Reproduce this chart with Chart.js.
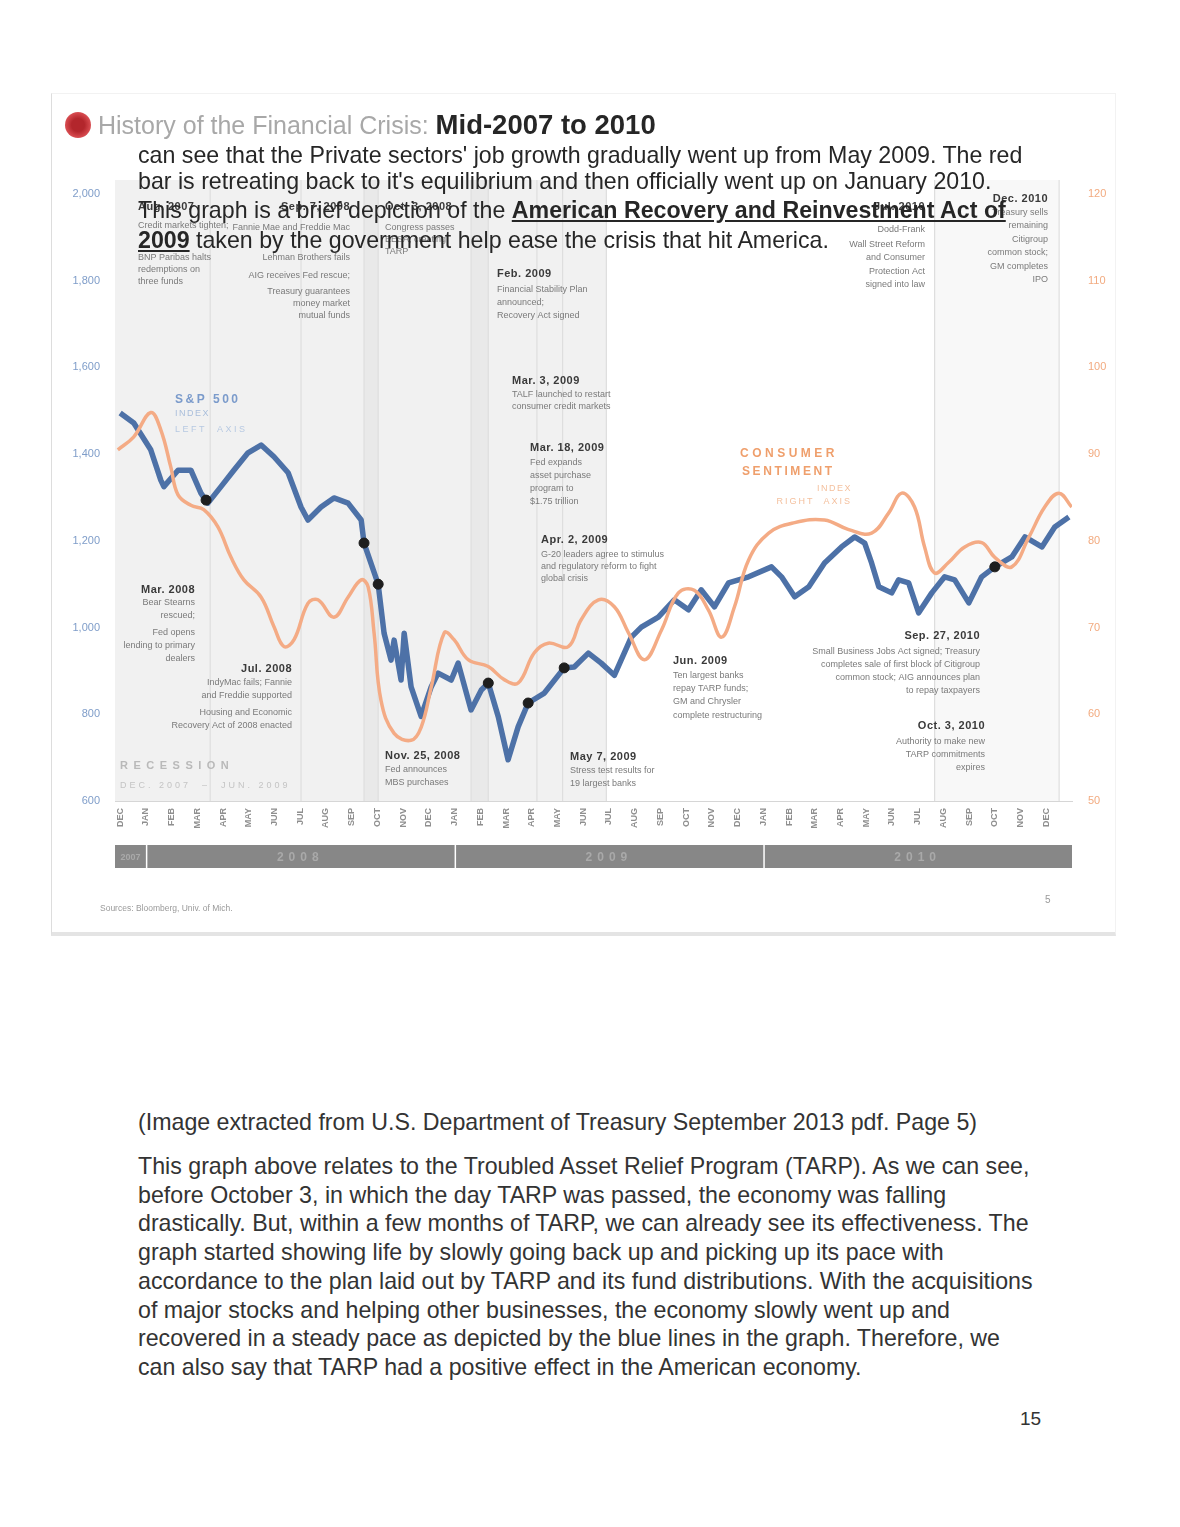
<!DOCTYPE html>
<html lang="en">
<head>
  <meta charset="UTF-8" />
  <title>History of the Financial Crisis: Mid-2007 to 2010</title>
  <script src="https://cdn.jsdelivr.net/npm/chart.js"></script>
  <style>
    body {
      margin: 0;
      background: #fff;
      font-family: 'Liberation Sans', Arial, sans-serif;
    }
    .page {
      position: relative;
      width: 1180px;
      height: 1527px;
      overflow: hidden;
    }
    .frame {
      position: absolute;
      left: 51px;
      top: 93px;
      width: 1063px;
      height: 838px;
      border: 1px solid #f2f2f2;
      border-left-color: #dddddd;
      border-bottom: 4px solid #e4e4e4;
    }
    #chart {
      position: absolute;
      left: 0;
      top: 0;
    }
    .logo {
      position: absolute;
      left: 65px;
      top: 112px;
      width: 26px;
      height: 26px;
      border-radius: 50%;
      background: radial-gradient(circle, #b3262c 35%, #d4474c 65%, #e58a87 100%);
    }
    .title {
      position: absolute;
      left: 98px;
      top: 110px;
      font-size: 25px;
      line-height: 30px;
      color: #a8a8a8;
      white-space: nowrap;
    }
    .title b {
      color: #262626;
      font-size: 27.5px;
    }
    .overlay {
      position: absolute;
      left: 138px;
      font-size: 23.2px;
      line-height: 24px;
      color: #262626;
      white-space: nowrap;
    }
    .overlay b { text-decoration: underline; }
    .source {
      position: absolute;
      left: 100px;
      top: 903px;
      font-size: 8.5px;
      color: #9a9a9a;
    }
    .slide-no {
      position: absolute;
      left: 1045px;
      top: 894px;
      font-size: 10px;
      color: #9a9a9a;
    }
    .caption {
      position: absolute;
      left: 138px;
      top: 1110px;
      font-size: 23.2px;
      line-height: 24px;
      color: #333;
      white-space: nowrap;
    }
    .doc {
      position: absolute;
      left: 138px;
      top: 1152px;
      font-size: 23.2px;
      line-height: 28.7px;
      color: #333;
      white-space: nowrap;
    }
    .page-no {
      position: absolute;
      left: 1020px;
      top: 1408px;
      font-size: 19px;
      color: #333;
    }
  </style>
</head>
<body>
<div class="page">
  <div class="frame"></div>
  <canvas id="chart" width="1180" height="940"></canvas>
  <div class="logo"></div>
  <div class="title">History of the Financial Crisis: <b>Mid-2007 to 2010</b></div>

  <div class="overlay" style="top:143px">can see that the Private sectors' job growth gradually went up from May 2009. The red</div>
  <div class="overlay" style="top:169px">bar is retreating back to it's equilibrium and then officially went up on January 2010.</div>
  <div class="overlay" style="top:198px">This graph is a brief depiction of the <b>American Recovery and Reinvestment Act of</b></div>
  <div class="overlay" style="top:228px"><b>2009</b> taken by the government help ease the crisis that hit America.</div>

  <div class="source">Sources: Bloomberg, Univ. of Mich.</div>
  <div class="slide-no">5</div>

  <div class="caption">(Image extracted from U.S. Department of Treasury September 2013 pdf. Page 5)</div>
  <div class="doc">
    This graph above relates to the Troubled Asset Relief Program (TARP). As we can see,<br>
    before October 3, in which the day TARP was passed, the economy was falling<br>
    drastically. But, within a few months of TARP, we can already see its effectiveness. The<br>
    graph started showing life by slowly going back up and picking up its pace with<br>
    accordance to the plan laid out by TARP and its fund distributions. With the acquisitions<br>
    of major stocks and helping other businesses, the economy slowly went up and<br>
    recovered in a steady pace as depicted by the blue lines in the graph. Therefore, we<br>
    can also say that TARP had a positive effect in the American economy.
  </div>
  <div class="page-no">15</div>
</div>

<script>
  // months counted from Dec. 1, 2007 (0) to Jan. 1, 2011 (37)
  const monthLabels = [
    'DEC',
    'JAN', 'FEB', 'MAR', 'APR', 'MAY', 'JUN', 'JUL', 'AUG', 'SEP', 'OCT', 'NOV', 'DEC',
    'JAN', 'FEB', 'MAR', 'APR', 'MAY', 'JUN', 'JUL', 'AUG', 'SEP', 'OCT', 'NOV', 'DEC',
    'JAN', 'FEB', 'MAR', 'APR', 'MAY', 'JUN', 'JUL', 'AUG', 'SEP', 'OCT', 'NOV', 'DEC'
  ];
  const yearLabels = ['2007', '2008', '2009', '2010'];

  // S&P 500 index (left axis)
  const spMonths = [0.00, 0.53, 1.19, 1.58, 1.70, 2.25, 2.75, 3.14, 3.41, 3.92,
    4.42, 4.97, 5.48, 5.98, 6.53, 7.03, 7.30, 7.81, 8.31, 8.86,
    9.37, 9.48, 10.03, 10.26, 10.53, 10.65, 10.92, 11.04, 11.31, 11.70,
    12.09, 12.36, 12.87, 13.14, 13.64, 14.04, 14.31, 14.70, 15.08, 15.47,
    15.86, 16.49, 17.26, 17.65, 18.20, 18.70, 19.21, 19.87, 20.26, 20.92,
    21.54, 22.09, 22.59, 23.10, 23.65, 24.43, 25.32, 25.71, 26.22, 26.77,
    27.38, 28.04, 28.55, 28.94, 29.21, 29.49, 29.99, 30.26, 30.65, 31.04,
    31.55, 32.05, 32.44, 32.99, 33.49, 34.00, 34.66, 35.17, 35.83, 36.33,
    36.88];
  const spValues = [1495, 1472, 1410, 1340, 1325, 1363, 1363, 1310, 1287, 1325,
    1363, 1403, 1421, 1394, 1357, 1278, 1248, 1278, 1299, 1287,
    1248, 1195, 1100, 987, 925, 971, 879, 987, 863, 795,
    863, 895, 879, 918, 810, 856, 872, 794, 695, 771,
    826, 849, 907, 909, 941, 918, 890, 978, 1001, 1024,
    1064, 1041, 1087, 1048, 1103, 1117, 1140, 1117, 1071, 1094,
    1149, 1186, 1209, 1195, 1149, 1094, 1080, 1110, 1103, 1034,
    1080, 1117, 1110, 1057, 1117, 1140, 1163, 1209, 1186, 1232,
    1255];

  // consumer sentiment index (right axis)
  const csMonths = [-0.09, 0.53, 1.19, 1.58, 1.97, 2.25, 2.75, 3.25, 3.80, 4.31,
    4.81, 5.48, 5.98, 6.37, 6.76, 7.30, 7.69, 8.31, 8.86, 9.37,
    9.64, 9.87, 10.14, 10.65, 11.31, 11.70, 12.09, 12.60, 12.98, 13.53,
    14.31, 14.93, 15.47, 16.10, 16.64, 17.42, 17.92, 18.59, 19.21, 19.76,
    20.38, 21.04, 21.70, 22.32, 22.87, 23.38, 23.88, 24.43, 25.21, 26.22,
    27.38, 28.32, 29.21, 29.87, 30.38, 30.88, 31.27, 31.66, 32.20, 32.83,
    33.49, 34.00, 34.66, 35.32, 35.94, 36.49, 36.99];
  const csValues = [90.5, 92.0, 94.8, 92.8, 88.5, 85.3, 84.1, 83.6, 81.6, 78.1,
    75.5, 73.5, 70.1, 67.8, 68.6, 72.8, 73.2, 71.2, 73.5, 75.5,
    74.7, 69.4, 61.6, 57.8, 57.0, 58.5, 63.1, 69.4, 68.6, 66.3,
    65.5, 64.0, 63.6, 67.1, 68.2, 67.8, 70.9, 73.2, 72.4, 69.4,
    66.3, 69.7, 74.0, 74.3, 72.0, 68.9, 72.4, 77.8, 80.9, 82.1,
    82.4, 81.3, 80.9, 83.2, 85.5, 83.9, 79.3, 76.3, 77.5, 79.3,
    79.8, 78.1, 77.0, 80.4, 83.9, 85.5, 83.9];

  // key events marked on the S&P line
  const eventMonths = [3.34, 9.48, 10.03, 14.31, 15.86, 17.26, 34.00];
  const eventValues = [1294, 1195, 1100, 872, 826, 907, 1140];

  // date spans and event lines behind the series
  const recession = [-0.2, 18.9];
  const crisisBands = [[9.48, 10.03], [13.64, 14.31]];
  const reformBand = [31.66, 36.5];
  const eventLines = [3.5, 7.03, 9.48, 10.03, 13.64, 14.31, 16.2, 17.2, 18.9, 31.66, 36.5];

  const notes = [
    { x: 138, align: 'left', head: [207, 'Aug. 2007'],
      body: [[226, 'Credit markets tighten;'], [258, 'BNP Paribas halts'], [270, 'redemptions on'], [282, 'three funds']] },
    { x: 350, align: 'right', head: [207, 'Sep. 7, 2008'],
      body: [[228, 'Fannie Mae and Freddie Mac'], [258, 'Lehman Brothers fails'], [276, 'AIG receives Fed rescue;'],
             [292, 'Treasury guarantees'], [304, 'money market'], [316, 'mutual funds']] },
    { x: 385, align: 'left', head: [207, 'Oct. 3, 2008'],
      body: [[228, 'Congress passes'], [240, 'EESA, creating'], [252, 'TARP']] },
    { x: 497, align: 'left', head: [274, 'Feb. 2009'],
      body: [[290, 'Financial Stability Plan'], [303, 'announced;'], [316, 'Recovery Act signed']] },
    { x: 512, align: 'left', head: [381, 'Mar. 3, 2009'],
      body: [[395, 'TALF launched to restart'], [407, 'consumer credit markets']] },
    { x: 530, align: 'left', head: [448, 'Mar. 18, 2009'],
      body: [[463, 'Fed expands'], [476, 'asset purchase'], [489, 'program to'], [502, '$1.75 trillion']] },
    { x: 541, align: 'left', head: [540, 'Apr. 2, 2009'],
      body: [[555, 'G-20 leaders agree to stimulus'], [567, 'and regulatory reform to fight'], [579, 'global crisis']] },
    { x: 195, align: 'right', head: [590, 'Mar. 2008'],
      body: [[603, 'Bear Stearns'], [616, 'rescued;'], [633, 'Fed opens'], [646, 'lending to primary'], [659, 'dealers']] },
    { x: 292, align: 'right', head: [669, 'Jul. 2008'],
      body: [[683, 'IndyMac fails; Fannie'], [696, 'and Freddie supported'], [713, 'Housing and Economic'], [726, 'Recovery Act of 2008 enacted']] },
    { x: 385, align: 'left', head: [756, 'Nov. 25, 2008'],
      body: [[770, 'Fed announces'], [783, 'MBS purchases']] },
    { x: 570, align: 'left', head: [757, 'May 7, 2009'],
      body: [[771, 'Stress test results for'], [784, '19 largest banks']] },
    { x: 673, align: 'left', head: [661, 'Jun. 2009'],
      body: [[676, 'Ten largest banks'], [689, 'repay TARP funds;'], [702, 'GM and Chrysler'], [716, 'complete restructuring']] },
    { x: 980, align: 'right', head: [636, 'Sep. 27, 2010'],
      body: [[652, 'Small Business Jobs Act signed; Treasury'], [665, 'completes sale of first block of Citigroup'],
             [678, 'common stock; AIG announces plan'], [691, 'to repay taxpayers']] },
    { x: 985, align: 'right', head: [726, 'Oct. 3, 2010'],
      body: [[742, 'Authority to make new'], [755, 'TARP commitments'], [768, 'expires']] },
    { x: 925, align: 'right', head: [207, 'Jul. 2010'],
      body: [[230, 'Dodd-Frank'], [245, 'Wall Street Reform'], [258, 'and Consumer'], [272, 'Protection Act'], [285, 'signed into law']] },
    { x: 1048, align: 'right', head: [199, 'Dec. 2010'],
      body: [[213, 'Treasury sells'], [226, 'remaining'], [240, 'Citigroup'], [253, 'common stock;'], [267, 'GM completes'], [280, 'IPO']] }
  ];

  const FONT = "'Liberation Sans', Arial, sans-serif";

  function text(ctx, str, x, y, font, color, align, spacing) {
    ctx.font = font;
    ctx.fillStyle = color;
    ctx.textAlign = align || 'left';
    ctx.textBaseline = 'middle';
    ctx.letterSpacing = spacing || '0px';
    ctx.fillText(str, x, y);
    ctx.letterSpacing = '0px';
  }

  const backdrop = {
    id: 'backdrop',
    beforeDatasetsDraw(chart) {
      const { ctx, chartArea: a, scales: { x } } = chart;
      const top = a.top - 14;
      const h = a.bottom - top;
      const px = v => x.getPixelForValue(v);
      ctx.save();
      ctx.fillStyle = '#f1f1f1';
      ctx.fillRect(px(recession[0]), top, px(recession[1]) - px(recession[0]), h);
      ctx.fillStyle = '#e9e9e9';
      crisisBands.forEach(([s, e]) => ctx.fillRect(px(s), top, px(e) - px(s), h));
      ctx.fillStyle = '#f8f8f8';
      ctx.fillRect(px(reformBand[0]), top, px(reformBand[1]) - px(reformBand[0]), h);
      ctx.strokeStyle = '#dedede';
      ctx.lineWidth = 1.2;
      eventLines.forEach(m => {
        ctx.beginPath();
        ctx.moveTo(px(m), top);
        ctx.lineTo(px(m), a.bottom);
        ctx.stroke();
      });
      ctx.restore();
    }
  };

  const decorations = {
    id: 'decorations',
    afterDraw(chart) {
      const { ctx, scales: { x } } = chart;
      ctx.save();

      // year bar under the month ticks
      const starts = [x.min];
      monthLabels.forEach((m, i) => { if (m === 'JAN') starts.push(i); });
      starts.push(x.max);
      const barTop = 845, barH = 23;
      yearLabels.forEach((yr, i) => {
        const x0 = x.getPixelForValue(starts[i]);
        const x1 = x.getPixelForValue(starts[i + 1]);
        ctx.fillStyle = '#878787';
        ctx.fillRect(x0 + (i ? 1.5 : 0), barTop, x1 - x0 - (i ? 1.5 : 0), barH);
        const small = (x1 - x0) < 60;
        text(ctx, yr, (x0 + x1) / 2, barTop + barH / 2 + 1,
          'bold ' + (small ? 9 : 12) + 'px ' + FONT, '#a9a9a9', 'center', small ? '0px' : '5px');
      });

      // event notes
      notes.forEach(n => {
        text(ctx, n.head[1], n.x, n.head[0], 'bold 11px ' + FONT, '#3a3a3a', n.align, '0.5px');
        n.body.forEach(([y, s]) => text(ctx, s, n.x, y, '9px ' + FONT, '#7a7a7a', n.align));
      });

      // recession label
      text(ctx, 'RECESSION', 120, 766, 'bold 11px ' + FONT, '#b9b9b9', 'left', '5.5px');
      text(ctx, 'DEC. 2007  \u2013  JUN. 2009', 120, 786, '9px ' + FONT, '#c4c4c4', 'left', '3px');

      // series labels
      text(ctx, 'S&P 500', 175, 400, 'bold 12px ' + FONT, '#7b9bcb', 'left', '2.5px');
      text(ctx, 'INDEX', 175, 414, '9px ' + FONT, '#a9bedb', 'left', '1.5px');
      text(ctx, 'LEFT  AXIS', 175, 430, '9px ' + FONT, '#b7c9e2', 'left', '2.5px');
      text(ctx, 'CONSUMER', 740, 454, 'bold 12px ' + FONT, '#ef9f6c', 'left', '3.5px');
      text(ctx, 'SENTIMENT', 742, 472, 'bold 12px ' + FONT, '#ef9f6c', 'left', '2.6px');
      text(ctx, 'INDEX', 852, 489, '9px ' + FONT, '#f4c09e', 'right', '1.5px');
      text(ctx, 'RIGHT  AXIS', 852, 502, '9px ' + FONT, '#f4c09e', 'right', '2px');

      ctx.restore();
    }
  };

  new Chart(document.getElementById('chart'), {
    type: 'line',
    data: {
      datasets: [
        {
          label: 'Key events',
          data: eventMonths.map((m, i) => ({ x: m, y: eventValues[i] })),
          yAxisID: 'y',
          showLine: false,
          pointRadius: 5,
          pointBackgroundColor: '#1e1e1e',
          pointBorderColor: '#1e1e1e',
          order: 0
        },
        {
          label: 'S&P 500 Index',
          data: spMonths.map((m, i) => ({ x: m, y: spValues[i] })),
          yAxisID: 'y',
          borderColor: '#4d71a7',
          borderWidth: 5.5,
          borderJoinStyle: 'round',
          pointRadius: 0,
          tension: 0,
          order: 2
        },
        {
          label: 'Consumer Sentiment Index',
          data: csMonths.map((m, i) => ({ x: m, y: csValues[i] })),
          yAxisID: 'y2',
          borderColor: '#f4ab85',
          borderWidth: 3.5,
          pointRadius: 0,
          tension: 0.4,
          order: 1
        }
      ]
    },
    options: {
      responsive: false,
      animation: false,
      layout: { padding: { top: 194, bottom: 59, left: 0, right: 0 } },
      plugins: {
        legend: { display: false },
        tooltip: { enabled: false }
      },
      scales: {
        x: {
          type: 'linear',
          min: -0.2,
          max: 37,
          afterFit: s => { s.height = 80; },
          grid: { display: false, drawTicks: false },
          border: { display: true, color: '#d6d6d6' },
          ticks: {
            stepSize: 1,
            includeBounds: false,
            autoSkip: false,
            minRotation: 90,
            maxRotation: 90,
            padding: 7,
            color: '#8f8f8f',
            font: { family: FONT, size: 9, weight: 'bold' },
            callback: v => Number.isInteger(v) ? (monthLabels[v] || '') : ''
          }
        },
        y: {
          position: 'left',
          min: 600,
          max: 2000,
          afterFit: s => { s.width = 115; },
          grid: { display: false, drawTicks: false },
          border: { display: false },
          ticks: {
            stepSize: 200,
            padding: 15,
            color: '#7f9dc9',
            font: { family: FONT, size: 11 },
            callback: v => v.toLocaleString('en-US')
          }
        },
        y2: {
          position: 'right',
          min: 50,
          max: 120,
          afterFit: s => { s.width = 108; },
          grid: { display: false, drawTicks: false },
          border: { display: false },
          ticks: {
            stepSize: 10,
            padding: 16,
            color: '#f2ab80',
            font: { family: FONT, size: 11 }
          }
        }
      }
    },
    plugins: [backdrop, decorations]
  });
</script>
</body>
</html>
